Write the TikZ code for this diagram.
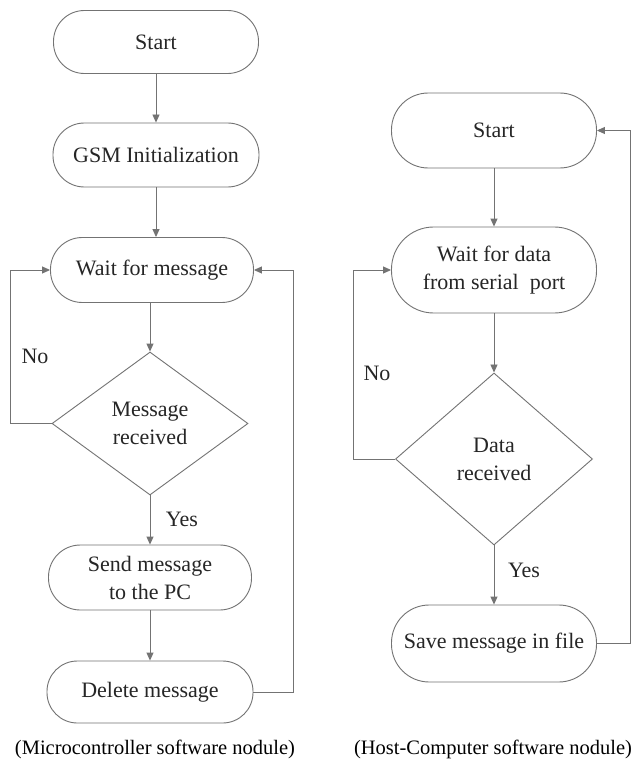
\documentclass[tikz,border=0pt]{standalone}
\usepackage{fontspec}
\setmainfont{Liberation Serif}
\usetikzlibrary{shapes.geometric,arrows.meta}
\colorlet{linec}{black!55}
\colorlet{textc}{black!85}
\begin{document}
\begin{tikzpicture}[x=1pt,y=-1pt,
  every node/.style={font=\fontsize{22}{28}\selectfont, text=textc},
  term/.style n args={2}{draw=linec, line width=0.9pt, minimum width=#1,
    minimum height=#2, rounded corners=#2*0.49, inner sep=0pt, align=center},
  decision/.style n args={2}{diamond, draw=linec, line width=0.9pt,
    minimum width=#1, minimum height=#2, inner sep=0pt, align=center},
  conn/.style={draw=linec, line width=0.9pt, -{Triangle[length=8pt,width=7pt]}},
  caption/.style={font=\fontsize{20.5}{24}\selectfont, text=black}]
\fill[white] (0,0) rectangle (632,765);
\useasboundingbox (0,0) rectangle (632,765);

% left flowchart
\node[term={205pt}{63pt}] (s1) at (156,42) {Start};
\node[term={206pt}{64pt}] (g1) at (156,155) {GSM Initialization};
\node[term={203pt}{65pt}] (w1) at (152,270) {Wait for message};
\node[decision={196pt}{143pt}] (d1) at (150,423.5) {Message\\received};
\node[term={203pt}{65pt}] (m1) at (150,577.5) {Send message\\to the PC};
\node[term={206pt}{62pt}] (x1) at (150,692) {Delete message};
\node (no1) at (35,356) {No};
\node (yes1) at (182,519) {Yes};
\coordinate (l1) at (10,0);
\coordinate (r1) at (293,0);

\draw[conn] (s1) -- (g1);
\draw[conn] (g1.south) -- (g1.south |- w1.north);
\draw[conn] (d1.north |- w1.south) -- (d1.north);
\draw[conn] (d1) -- (m1);
\draw[conn] (m1) -- (x1);
\draw[conn] (d1.west) -- (d1.west -| l1) |- (w1.west);
\draw[conn] (x1.east) -- (x1.east -| r1) |- (w1.east);

% right flowchart
\node[term={205pt}{75pt}] (s2) at (494,130.5) {Start};
\node[term={205pt}{86pt}] (w2) at (494,270) {Wait for data\\from serial~ port};
\node[decision={197pt}{172pt}] (d2) at (494,459) {Data\\received};
\node[term={205pt}{77pt}] (v2) at (494,643.5) {Save message in file};
\node (no2) at (377,373) {No};
\node (yes2) at (524,570) {Yes};
\coordinate (l2) at (353,0);
\coordinate (r2) at (630,0);

\draw[conn] (s2) -- (w2);
\draw[conn] (w2) -- (d2);
\draw[conn] (d2) -- (v2);
\draw[conn] (d2.west) -- (d2.west -| l2) |- (w2.west);
\draw[conn] (v2.east) -- (v2.east -| r2) |- (s2.east);

% captions
\node[caption] (c1) at (155,749) {(Microcontroller software nodule)};
\node[caption] (c2) at (493,749) {(Host-Computer software nodule)};
\end{tikzpicture}
\end{document}
